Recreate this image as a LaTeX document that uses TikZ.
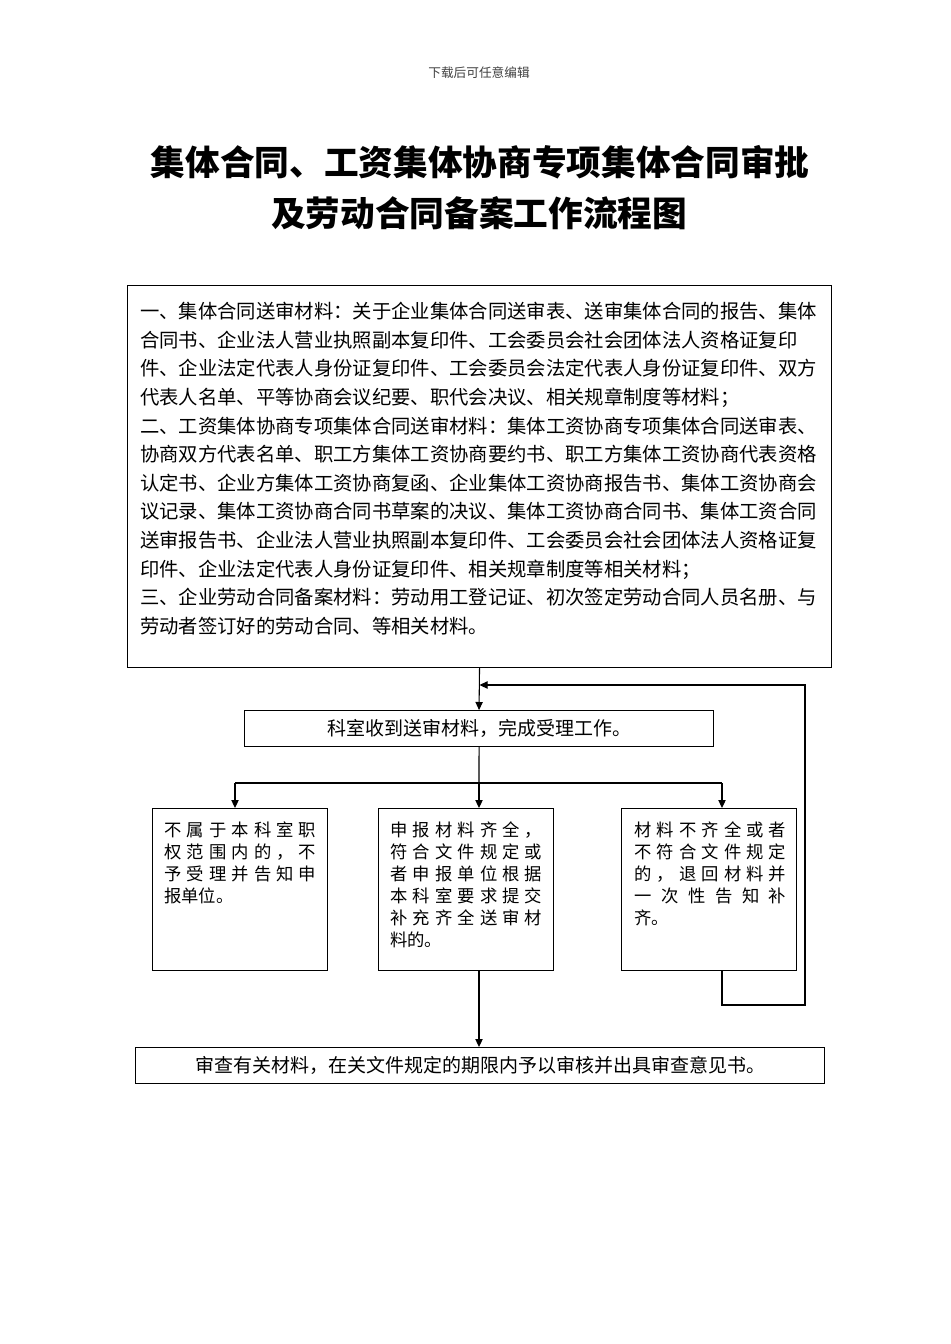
\documentclass[tikz,border=0pt]{standalone}
\usepackage{fontspec}
\newfontfamily\cjk{Noto Sans CJK SC}
\usetikzlibrary{arrows.meta}
\def\sprA#1#2{#1\ifx\relax#2\else\hfill\expandafter\sprA\expandafter#2\fi}
\newcommand\spr[1]{\makebox[114pt][s]{\sprA#1\relax}}
\begin{document}
\begin{tikzpicture}[x=0.75pt,y=-0.75pt,
  box/.style={draw,line width=0.8pt,inner sep=0pt},
  ln/.style={line width=0.8pt},
  arr/.style={line width=0.8pt,-{Triangle[length=6pt,width=5.5pt]}},
  boxtext/.style={inner sep=0pt,align=left,anchor=north west,font={\cjk\fontsize{13pt}{16.5pt}\selectfont}}]
\useasboundingbox (0,0) rectangle (950,1344);
\fill[white] (0,0) rectangle (950,1344);
% header and title
\node[inner sep=0pt,text=black!75,font={\cjk\fontsize{9.5pt}{11pt}\selectfont}] (hdr) at (479,73) {下载后可任意编辑};
\node[inner sep=0pt,font={\cjk\bfseries\fontsize{26pt}{30pt}\selectfont}] (t1) at (480,162) {集体合同、工资集体协商专项集体合同审批};
\node[inner sep=0pt,font={\cjk\bfseries\fontsize{26pt}{30pt}\selectfont}] (t2) at (479,213) {及劳动合同备案工作流程图};
% materials box
\node[box,anchor=north west,minimum width=528pt,minimum height=286.5pt] (mat) at (127,285) {};
\node[inner sep=0pt,align=left,anchor=north west,font={\cjk\fontsize{14.5pt}{21.45pt}\selectfont}] (mattext) at (140,302) {%
一、集体合同送审材料：关于企业集体合同送审表、送审集体合同的报告、集体\\
合同书、企业法人营业执照副本复印件、工会委员会社会团体法人资格证复印\\
件、企业法定代表人身份证复印件、工会委员会法定代表人身份证复印件、双方\\
代表人名单、平等协商会议纪要、职代会决议、相关规章制度等材料；\\
二、工资集体协商专项集体合同送审材料：集体工资协商专项集体合同送审表、\\
协商双方代表名单、职工方集体工资协商要约书、职工方集体工资协商代表资格\\
认定书、企业方集体工资协商复函、企业集体工资协商报告书、集体工资协商会\\
议记录、集体工资协商合同书草案的决议、集体工资协商合同书、集体工资合同\\
送审报告书、企业法人营业执照副本复印件、工会委员会社会团体法人资格证复\\
印件、企业法定代表人身份证复印件、相关规章制度等相关材料；\\
三、企业劳动合同备案材料：劳动用工登记证、初次签定劳动合同人员名册、与\\
劳动者签订好的劳动合同、等相关材料。};
% receive box
\node[box,anchor=north west,minimum width=351.75pt,minimum height=27pt] (recv) at (244,710) {};
\node[inner sep=0pt,font={\cjk\fontsize{14.25pt}{17pt}\selectfont}] (recvtext) at (recv.center) {科室收到送审材料，完成受理工作。};
% three boxes
\node[box,anchor=north west,minimum width=131.25pt,minimum height=121.5pt] (b1) at (152,808) {};
\node[box,anchor=north west,minimum width=131.25pt,minimum height=121.5pt] (b2) at (378,808) {};
\node[box,anchor=north west,minimum width=131.25pt,minimum height=121.5pt] (b3) at (621,808) {};
\node[boxtext] (b1text) at (164,821) {\spr{不属于本科室职}\\ \spr{权范围内的，不}\\ \spr{予受理并告知申}\\ 报单位。};
\node[boxtext] (b2text) at (390,821) {\spr{申报材料齐全，}\\ \spr{符合文件规定或}\\ \spr{者申报单位根据}\\ \spr{本科室要求提交}\\ \spr{补充齐全送审材}\\ 料的。};
\node[boxtext] (b3text) at (634,821) {\spr{材料不齐全或者}\\ \spr{不符合文件规定}\\ \spr{的，退回材料并}\\ \spr{一次性告知补}\\ 齐。};
% final box
\node[box,anchor=north west,minimum width=516.75pt,minimum height=27pt] (fin) at (135,1047) {};
\node[inner sep=0pt,font={\cjk\fontsize{14.25pt}{17pt}\selectfont}] (fintext) at (fin.center) {审查有关材料，在关文件规定的期限内予以审核并出具审查意见书。};
% connectors
\coordinate (split) at (479,783);
\coordinate (lt) at (235,783);
\coordinate (rt) at (722,783);
\coordinate (fbr) at (805,1005);
\coordinate (fbt) at (805,685);
\draw[arr] (mat.south) -- (recv.north);
\draw[ln] (recv.south) -- (split);
\draw[ln] (lt) -- (rt);
\draw[arr] (lt) -- (lt |- b1.north);
\draw[arr] (split) -- (split |- b2.north);
\draw[arr] (rt) -- (rt |- b3.north);
\draw[arr] (split |- b2.south) -- (split |- fin.north);
\draw[arr] (rt |- b3.south) -- (rt |- fbr) -- (fbr) -- (fbt) -- (fbt -| mat.south);
\end{tikzpicture}
\end{document}
